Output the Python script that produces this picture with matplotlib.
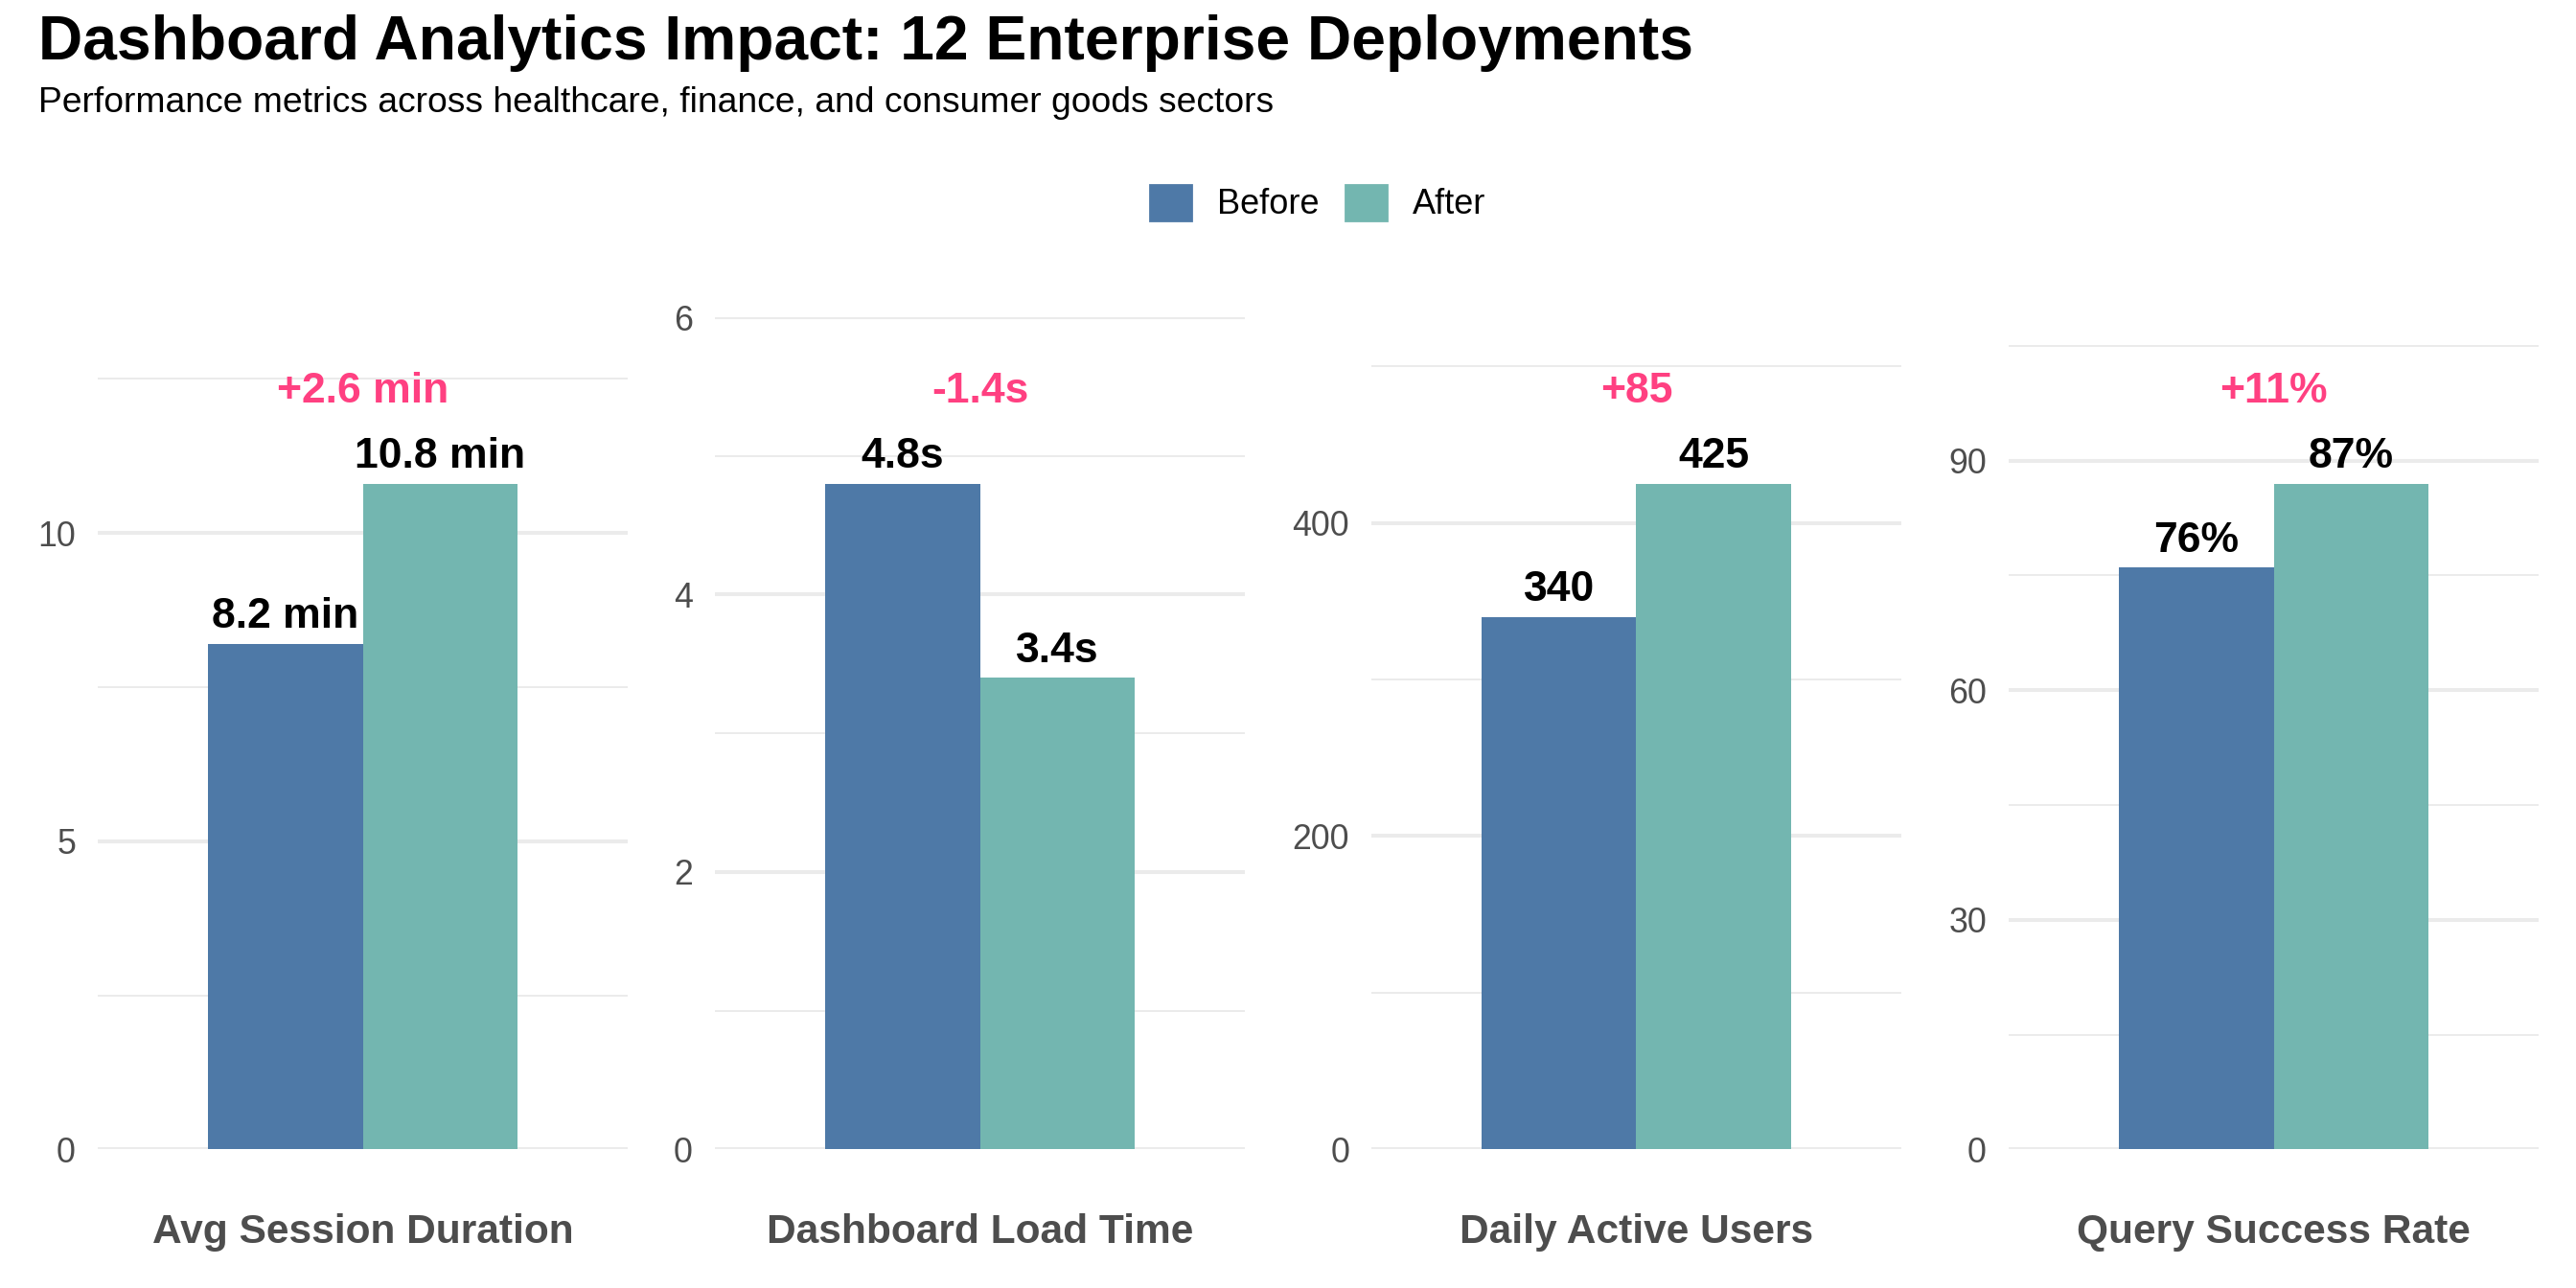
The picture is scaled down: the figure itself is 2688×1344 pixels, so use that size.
import matplotlib.pyplot as plt
from matplotlib.patches import Patch
from matplotlib.ticker import MultipleLocator

# data
metrics = ['Avg Session Duration', 'Dashboard Load Time', 'Daily Active Users', 'Query Success Rate']
before = [8.2, 4.8, 340, 76]
after = [10.8, 3.4, 425, 87]
value_fmt = ['{:.1f} min', '{:.1f}s', '{:.0f}', '{:.0f}%']
diff_fmt = ['{:+.1f} min', '{:+.1f}s', '{:+.0f}', '{:+.0f}%']
major_step = [5, 2, 200, 30]

# style
plt.rcParams['font.family'] = ['Liberation Sans', 'DejaVu Sans']
c_before = '#4E79A7'
c_after = '#73B6B0'
c_diff = '#FF4081'
c_grid = '#EBEBEB'
c_axis_text = '#4D4D4D'

W, H, DPI = 2688, 1344, 200
fig = plt.figure(figsize=(W / DPI, H / DPI), dpi=DPI)
px2pt = 72 / DPI

# panel layout in pixels (facet_wrap-like, free y)
panel_left = [102, 746, 1431, 2096]
panel_w = 553
panel_bottom = 1199.3
panel_top = 331

bar_w = 0.35
for i, name in enumerate(metrics):
    ax = fig.add_axes([panel_left[i] / W, 1 - panel_bottom / H,
                       panel_w / W, (panel_bottom - panel_top) / H])
    top = max(before[i], after[i])
    ax.bar(1 - bar_w / 2, before[i], width=bar_w, color=c_before, zorder=2)
    ax.bar(1 + bar_w / 2, after[i], width=bar_w, color=c_after, zorder=2)
    ax.set_xlim(0.4, 1.6)
    ax.set_ylim(0, top * 1.25)

    # value labels
    for x, v in [(1 - bar_w / 2, before[i]), (1 + bar_w / 2, after[i])]:
        ax.annotate(value_fmt[i].format(v), xy=(x, v), xytext=(0, 6),
                    textcoords='offset points', ha='center', va='baseline',
                    fontsize=16, fontweight='bold', color='black', zorder=3)
    # difference label (centred on the caps)
    ax.annotate(diff_fmt[i].format(after[i] - before[i]), xy=(1, top * 1.15),
                xytext=(0, -7), textcoords='offset points',
                ha='center', va='baseline', fontsize=16, fontweight='bold', color=c_diff)

    # facet label at bottom
    ax.annotate(name, xy=(0.5, 0), xycoords='axes fraction',
                xytext=(0, -97.4 * px2pt), textcoords='offset points',
                ha='center', va='baseline', fontsize=15.3, fontweight='bold',
                color=c_axis_text)

    ax.yaxis.set_major_locator(MultipleLocator(major_step[i]))
    ax.yaxis.set_minor_locator(MultipleLocator(major_step[i] / 2))
    ax.grid(True, axis='y', which='major', color=c_grid, lw=1.45)
    ax.grid(True, axis='y', which='minor', color=c_grid, lw=0.72)
    ax.set_axisbelow(True)
    ax.set_xticks([])
    ax.tick_params(axis='y', which='both', length=0, pad=23 * px2pt,
                   labelsize=12.9, labelcolor=c_axis_text)
    for s in ax.spines.values():
        s.set_visible(False)

# title and subtitle
fig.text(40 / W, 1 - 61.7 / H, 'Dashboard Analytics Impact: 12 Enterprise Deployments',
         fontsize=23.1, fontweight='bold', va='baseline', ha='left')
fig.text(40 / W, 1 - 116.7 / H,
         'Performance metrics across healthcare, finance, and consumer goods sectors',
         fontsize=13.4, va='baseline', ha='left')

# legend
handles = [Patch(color=c_before, label='Before'), Patch(color=c_after, label='After')]
fig.legend(handles=handles, loc='center', bbox_to_anchor=(1375 / W, 1 - 212 / H),
           ncol=2, frameon=False, fontsize=13, handlelength=1.2, handleheight=1.2,
           handletextpad=0.75, columnspacing=0.75, borderpad=0)

fig.savefig('out.png', dpi=DPI)
